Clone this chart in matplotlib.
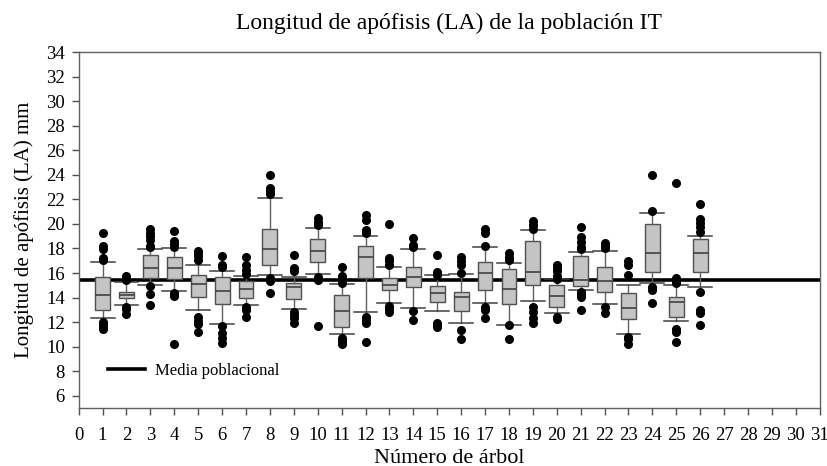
import matplotlib
matplotlib.use("Agg")
import matplotlib.pyplot as plt
import matplotlib.ticker as tic

# --- Datos (mm) --- #
arboles = list(range(1, 27))
q1 = [12.98, 13.93, 15.57, 15.48, 14.07, 13.47, 13.93, 16.65, 13.85, 16.90,
      11.63, 15.57, 14.61, 14.83, 13.61, 12.90, 14.61, 13.45, 15.02, 13.26,
      14.94, 14.48, 12.25, 16.05, 12.44, 16.05]
mediana = [14.20, 14.23, 16.41, 16.38, 15.08, 14.53, 14.67, 17.93, 14.89, 17.82,
           12.93, 17.28, 15.05, 15.70, 14.34, 14.07, 15.97, 14.67, 16.11, 14.13,
           15.43, 15.38, 13.15, 17.66, 13.64, 17.66]
q3 = [15.70, 14.48, 17.47, 17.28, 15.86, 15.67, 15.37, 19.59, 15.16, 18.74,
      14.18, 18.20, 15.59, 16.52, 14.94, 14.48, 16.87, 16.35, 18.61, 14.99,
      17.39, 16.46, 14.34, 19.97, 14.07, 18.74]
bigote_inf = [12.30, 13.36, 14.99, 14.50, 12.98, 11.87, 13.42, 15.84, 13.07, 15.92,
              11.03, 12.79, 13.58, 13.12, 12.93, 11.95, 13.53, 11.79, 13.72, 12.71,
              14.61, 13.47, 11.00, 15.21, 12.06, 14.89]
bigote_sup = [16.92, 15.30, 17.98, 18.00, 16.65, 16.19, 15.75, 22.09, 15.70, 19.70,
              15.08, 19.04, 16.46, 17.93, 15.81, 15.89, 18.12, 16.82, 19.48, 15.50,
              17.68, 17.82, 15.02, 20.92, 15.05, 19.04]
atipicos = [
    [19.23, 18.20, 17.96, 17.20, 17.06, 12.03, 11.76, 11.54, 11.40],
    [15.75, 15.60, 15.43, 13.25, 13.04, 12.70],
    [19.56, 19.29, 19.02, 18.69, 18.23, 18.10, 14.94, 14.29, 13.36],
    [19.42, 18.60, 18.36, 18.15, 14.34, 14.12, 10.20],
    [17.82, 17.60, 17.39, 17.10, 12.44, 12.11, 11.84, 11.22],
    [17.39, 16.65, 16.46, 11.68, 11.14, 10.67, 10.32],
    [17.33, 16.65, 16.24, 15.95, 13.25, 12.98, 12.39],
    [23.99, 22.96, 22.71, 22.44, 15.62, 15.38, 14.40],
    [17.47, 16.41, 16.15, 12.85, 12.55, 12.30, 11.95],
    [20.51, 20.18, 19.91, 15.65, 15.43, 11.71],
    [16.46, 15.75, 15.43, 15.20, 10.73, 10.48, 10.21],
    [20.70, 20.32, 19.50, 19.29, 12.44, 12.17, 11.90, 10.40],
    [19.97, 17.22, 16.95, 16.65, 13.31, 13.07, 12.85],
    [18.85, 18.26, 18.10, 12.90, 12.17],
    [17.44, 16.08, 15.85, 11.95, 11.76, 11.57],
    [17.28, 16.98, 16.65, 15.97, 11.35, 10.62],
    [19.61, 19.29, 18.23, 13.26, 12.98, 12.36],
    [17.60, 17.33, 17.06, 11.73, 10.65],
    [20.24, 19.91, 19.60, 13.26, 12.85, 12.30, 11.95],
    [16.65, 16.38, 16.16, 15.76, 15.55, 12.44, 12.22],
    [19.72, 18.91, 18.55, 18.15, 17.95, 14.48, 14.29, 14.07, 12.96],
    [18.47, 18.28, 18.00, 13.26, 12.77],
    [16.98, 16.65, 15.84, 10.81, 10.59, 10.18],
    [23.99, 21.05, 14.89, 14.61, 13.53],
    [23.36, 15.57, 15.40, 15.16, 11.41, 11.22, 10.40],
    [21.60, 20.38, 20.05, 19.72, 19.37, 14.45, 12.98, 12.71, 11.76],
]
media_poblacional = 15.4

stats = []
for i in range(len(arboles)):
    stats.append({'med': mediana[i], 'q1': q1[i], 'q3': q3[i],
                  'whislo': bigote_inf[i], 'whishi': bigote_sup[i],
                  'fliers': atipicos[i]})

plt.rcParams['font.family'] = ['Liberation Serif', 'DejaVu Serif']

fig = plt.figure(figsize=(8.28, 4.66), dpi=100)
ax = fig.add_axes([0.095, 0.1245, 0.895, 0.7635])

ax.axhline(media_poblacional, color='black', linewidth=2.6, zorder=1, label='Media poblacional')

ax.bxp(stats, positions=arboles, widths=0.62, capwidths=1.0, patch_artist=True,
       boxprops=dict(facecolor='#c4c4c4', edgecolor='#505050', linewidth=1.0),
       medianprops=dict(color='#404040', linewidth=1.2),
       whiskerprops=dict(color='#606060', linewidth=1.0),
       capprops=dict(color='#404040', linewidth=1.1),
       flierprops=dict(marker='o', markerfacecolor='black', markeredgecolor='black', markersize=5.5),
       manage_ticks=False, zorder=2)

ax.set_xlim(0, 31)
ax.set_ylim(5, 34)
ax.xaxis.set_major_locator(tic.MultipleLocator(1))
ax.yaxis.set_major_locator(tic.FixedLocator(range(6, 35, 2)))
ax.tick_params(axis='both', direction='out', length=5, width=1, colors='#505050',
               labelcolor='black', labelsize=13.5)
ax.tick_params(axis='x', pad=9)
ax.tick_params(axis='y', pad=5)
for s in ax.spines.values():
    s.set_color('#606060')
    s.set_linewidth(1.0)

ax.set_title('Longitud de apófisis (LA) de la población IT', fontsize=17, pad=17)
ax.set_xlabel('Número de árbol', fontsize=16, labelpad=3)
ax.set_ylabel('Longitud de apófisis (LA) mm', fontsize=15, labelpad=9)

ax.legend(loc='lower left', bbox_to_anchor=(0.02, 0.04), frameon=False, fontsize=12,
          handlelength=2.2, handletextpad=0.6)

fig.savefig('out.png', dpi=100)
